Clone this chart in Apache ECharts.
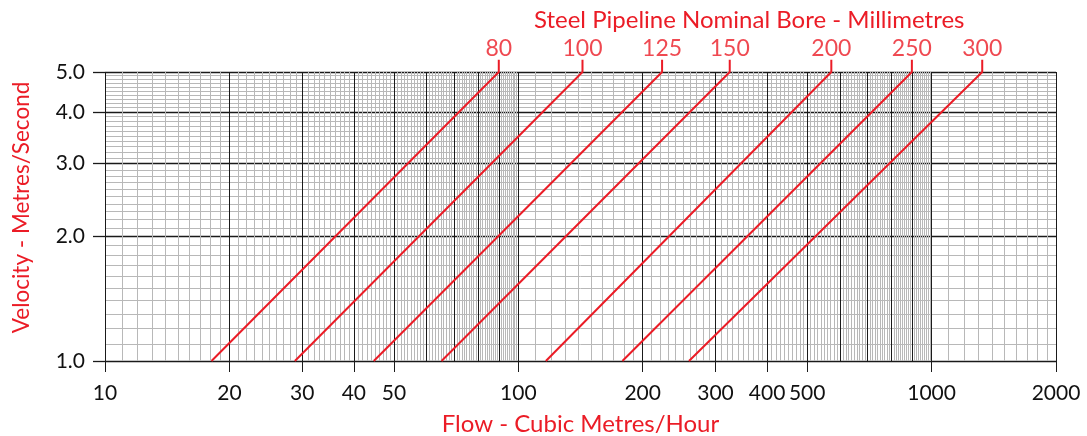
<!DOCTYPE html>
<html><head><meta charset="utf-8">
<script src="https://cdn.jsdelivr.net/npm/echarts@6/dist/echarts.min.js"></script>
<style>html,body{margin:0;padding:0;background:#fff}#c{width:1087px;height:436px}</style>
</head><body><div id="c"></div>
<script>
// ---- data ----
const bores = ['80', '100', '125', '150', '200', '250', '300'];
const flowAtV1 = [18.1, 28.8, 44.7, 65.2, 116.6, 178.6, 258.8];   // m3/h at 1.0 m/s
const flowAtV5 = [89.7, 143, 222.8, 324.8, 572, 896, 1326];        // m3/h at 5.0 m/s
const velocityLow = 1.0;
const velocityHigh = 5.0;
const boreTickTop = 5.35;   // top of the small tick that carries the bore label
const xTickLabels = [10, 20, 30, 40, 50, 100, 200, 300, 400, 500, 1000, 2000];
const yTickLabels = [1, 2, 3, 4, 5];
const xMajorLines = [10, 20, 30, 40, 50, 60, 70, 80, 90, 100, 200, 300, 400, 500, 600, 700, 800, 900, 1000, 2000];
const yMajorLines = [1, 2, 3, 4, 5];

// minor grid: ten subdivisions of each major step
const xMinorLines = [];
[10, 100, 1000].forEach(function (d) {
  for (let m = 1; m <= 9; m++) {
    if (m * d >= 2000) break;
    for (let k = 1; k <= 9; k++) xMinorLines.push(Math.round((m + k / 10) * d * 1000) / 1000);
  }
});
const yMinorLines = [];
for (let m = 1; m <= 4; m++) for (let k = 1; k <= 9; k++) yMinorLines.push(Math.round((m + k / 10) * 100) / 100);

const RED = '#eb1c26';
const FONT = 'Lato';

function gridAxis(kind, values, color, width, min, max) {
  return {
    type: 'log', logBase: 10, min: min, max: max,
    position: kind === 'x' ? 'bottom' : 'left',
    axisLine: { show: false, onZero: false },
    axisTick: { show: false, customValues: values },
    axisLabel: { show: false },
    splitLine: { show: true, lineStyle: { color: color, width: width } },
    minorTick: { show: false }, minorSplitLine: { show: false },
    silent: true
  };
}

const xAxes = [
  gridAxis('x', xMinorLines, '#b8b8b8', 1, 10, 2000),
  gridAxis('x', xMajorLines, '#1a1a1a', 1, 10, 2000),
  {
    type: 'log', logBase: 10, min: 10, max: 2000, position: 'bottom',
    axisLine: { show: false, onZero: false },
    axisTick: { show: true, customValues: xTickLabels, length: 11, lineStyle: { color: '#1a1a1a', width: 1 } },
    axisLabel: { show: true, customValues: xTickLabels, margin: 22, color: '#111', fontSize: 21, fontFamily: FONT,
      formatter: function (v) { return String(Math.round(v)); } },
    splitLine: { show: false },
    name: 'Flow - Cubic Metres/Hour', nameLocation: 'middle', nameGap: 51,
    nameTextStyle: { color: RED, fontSize: 24, fontFamily: FONT }
  }
];
const yAxes = [
  gridAxis('y', yMinorLines, '#b8b8b8', 1, 1, 5),
  gridAxis('y', yMajorLines, '#1a1a1a', 1.3, 1, 5),
  {
    type: 'log', logBase: 10, min: 1, max: 5, position: 'left',
    axisLine: { show: false, onZero: false },
    axisTick: { show: true, customValues: yTickLabels, length: 12, lineStyle: { color: '#1a1a1a', width: 1.3 } },
    axisLabel: { show: true, customValues: yTickLabels, margin: 20, color: '#111', fontSize: 21, fontFamily: FONT,
      formatter: function (v) { return Number(v).toFixed(1); } },
    splitLine: { show: false },
    name: 'Velocity - Metres/Second', nameLocation: 'middle', nameGap: 72,
    nameTextStyle: { color: RED, fontSize: 22.5, fontFamily: FONT, padding: [0, 0, 0, 18] }
  }
];

const series = [];
bores.forEach(function (b, i) {
  series.push({
    type: 'line', name: b, xAxisIndex: 2, yAxisIndex: 2, clip: false, z: 5,
    showSymbol: false, symbol: 'none', silent: true,
    lineStyle: { color: RED, width: 2 },
    data: [[flowAtV1[i], velocityLow], [flowAtV5[i], velocityHigh], [flowAtV5[i], boreTickTop]]
  });
});
series.push({
  type: 'scatter', xAxisIndex: 2, yAxisIndex: 2, clip: false, symbolSize: 0, silent: true, z: 6,
  data: bores.map(function (b, i) { return { value: [flowAtV5[i], boreTickTop], name: b }; }),
  label: { show: true, position: 'top', distance: 0, color: RED, fontSize: 23, fontFamily: FONT,
    formatter: function (p) { return p.name; } }
});

const chart = echarts.init(document.getElementById('c'), null, { renderer: 'canvas' });
chart.setOption({
  animation: false,
  backgroundColor: '#fff',
  title: { text: 'Steel Pipeline Nominal Bore - Millimetres', left: 529, top: 3,
    textStyle: { color: RED, fontSize: 24, fontWeight: 'normal', fontFamily: FONT } },
  grid: { left: 105, right: 31, top: 72, bottom: 75, containLabel: false, outerBoundsMode: 'none' },
  xAxis: xAxes,
  yAxis: yAxes,
  series: series
});
</script></body></html>
